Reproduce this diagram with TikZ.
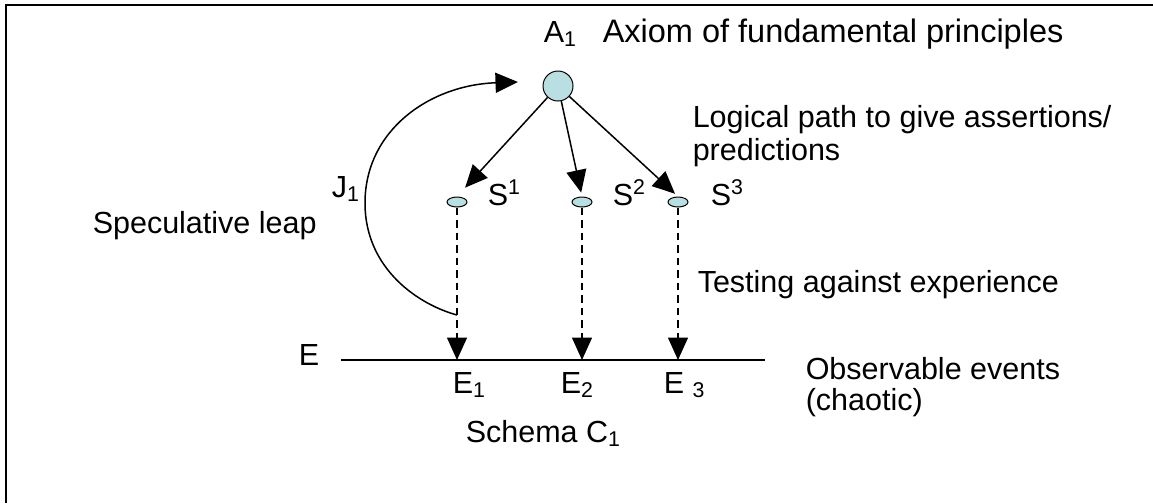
\documentclass[tikz,border=0pt]{standalone}
\usepackage{fontspec}
\setmainfont{Liberation Sans}
\usetikzlibrary{arrows.meta,shapes.geometric}
\definecolor{dotfill}{RGB}{185,223,226}
\tikzset{
  lbl/.style={inner sep=0pt, anchor=base west, font=\fontsize{12.2}{14.6}\selectfont},
  tip/.style={-{Triangle[length=9pt,width=8pt]}},
  dot/.style={ellipse, draw, line width=0.4pt, fill=dotfill, inner sep=0pt, minimum width=8pt, minimum height=4pt}
}
\begin{document}
\begin{tikzpicture}[x=0.4pt,y=-0.4pt,line width=0.6pt]
\useasboundingbox (0,0) rectangle (1153,503);
% frame (only top and left edge fall inside)
\draw[line width=1pt] (6,503) -- (6,5) -- (1153,5);
% axiom
\node[circle, draw, line width=0.4pt, fill=dotfill, inner sep=0pt, minimum size=12pt] (A) at (558,86) {};
\node[lbl] (a1) at (543,42) {A\textsubscript{1}};
\node[lbl, font=\fontsize{13}{15.6}\selectfont] (axiom) at (602,42) {Axiom of fundamental principles};
\node[lbl] (logic) at (692,127) {Logical path to give assertions/};
\node[lbl] (pred) at (692,160) {predictions};
% observable line
\coordinate (Eline) at (341,360);
\coordinate (Eend) at (765,360);
\draw (Eline) -- (Eend);
\node[lbl] (E) at (298,365) {E};
% statements and tests
\foreach \n/\x/\gap in {1/457/4.8pt,2/582/1.6pt,3/678/1.6pt}{
  \node[dot] (s\n) at (\x,202) {};
  \draw[tip, shorten >=\gap] (A) -- (s\n.north);
  \draw[tip, dashed, dash pattern=on 3pt off 2pt] (s\n.south) -- (s\n |- Eline);
}
\node[lbl] (s1lbl) at (487,205) {S\textsuperscript{1}};
\node[lbl] (s2lbl) at (612,205) {S\textsuperscript{2}};
\node[lbl] (s3lbl) at (710,205) {S\textsuperscript{3}};
\node[lbl] (e1lbl) at (452,393) {E\textsubscript{1}};
\node[lbl] (e2lbl) at (560,393) {E\textsubscript{2}};
\node[lbl] (e3lbl) at (663,393) {E \textsubscript{3}};
\node[lbl] (schema) at (465,442) {Schema C\textsubscript{1}};
\node[lbl] (test) at (697,292) {Testing against experience};
\node[lbl] (obs) at (805,379) {Observable events};
\node[lbl] (chaos) at (805,410) {(chaotic)};
% speculative leap
\coordinate (jstart) at (457,315);
\coordinate (jend) at (518,82);
\draw[tip] (jstart) .. controls (420,305) and (365,270) .. (365,203)
  .. controls (365,130) and (430,85) .. (jend);
\node[lbl, anchor=base east] (j1) at (361,197) {J\textsubscript{1}};
\node[lbl] (leap) at (92,233) {Speculative leap};
\end{tikzpicture}
\end{document}
